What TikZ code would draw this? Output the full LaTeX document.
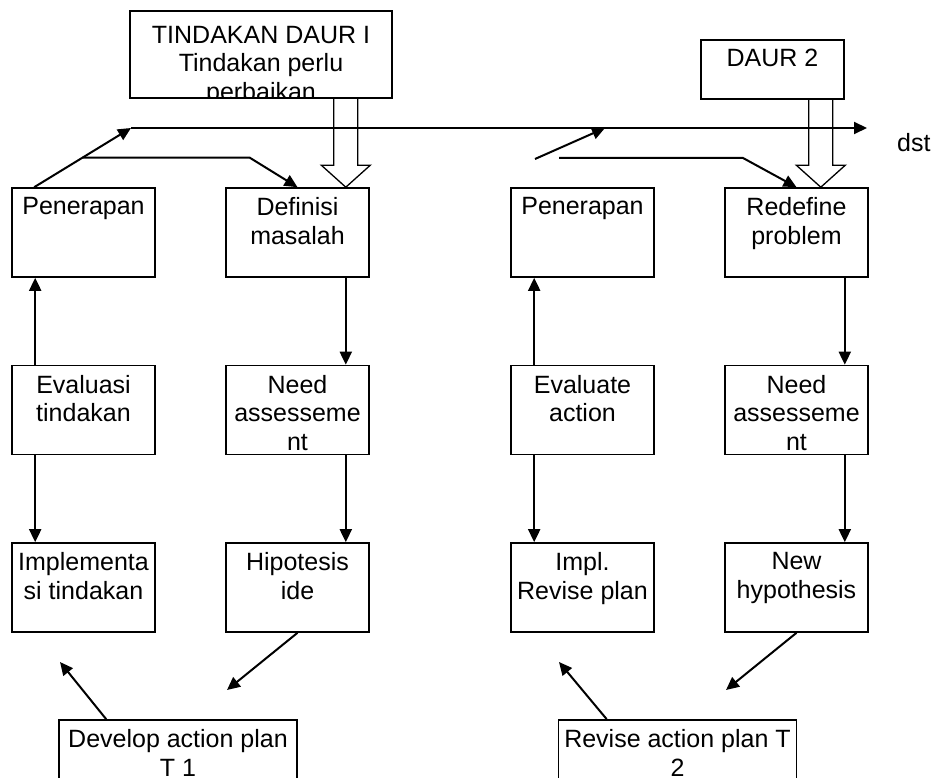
\documentclass[tikz,border=0pt]{standalone}
\usepackage{fontspec}
\setmainfont{Liberation Sans}
\usetikzlibrary{arrows.meta,calc}

\newcommand{\teks}{\fontsize{25}{28.5}\selectfont}

\tikzset{
  kotak/.style={draw, line width=1.6pt, minimum width=143pt, minimum height=89pt, inner sep=0pt},
  isi/.style={anchor=north, yshift=-10pt, align=center, inner sep=0pt, font=\teks},
  panah/.style={line width=2pt, -{Triangle[length=13pt,width=12pt]}},
  kosong/.style={line width=1.3pt}
}

\begin{document}
\begin{tikzpicture}[x=1pt, y=-1pt]
\useasboundingbox (0,0) rectangle (935,778);
\clip (0,0) rectangle (935,778);

    % kotak judul daur
    \node [kotak, minimum width=262pt, minimum height=87pt,
        path picture={\node [isi] (tin1t) at (path picture bounding box.north)
            {TINDAKAN DAUR I\\Tindakan perlu\\perbaikan};}] (tin1) at (261,54.7) {};
    \node [kotak, minimum height=59pt, label={[isi]north:DAUR 2}] (daur2) at (772.5,69.5) {};

    % daur 1
    \node [kotak, label={[isi]north:Penerapan}] (pen1) at (83.5,232.5) {};
    \node [kotak, label={[isi]north:{Definisi\\masalah}}] (def1) at (297.5,232.5) {};
    \node [kotak, label={[isi]north:{Evaluasi\\tindakan}}] (eva1) at (83.5,410) {};
    \node [kotak, label={[isi]north:{Need\\assesseme\\nt}}] (need1) at (297.5,410) {};
    \node [kotak, label={[isi]north:{Implementa\\si tindakan}}] (imp1) at (83.5,587.5) {};
    \node [kotak, label={[isi]north:{Hipotesis\\ide}}] (hip1) at (297.5,587.5) {};
    \node [kotak, minimum width=238pt, label={[isi]north:{Develop action plan\\T 1}}] (dev1) at (178,764.5) {};

    % daur 2
    \node [kotak, label={[isi]north:Penerapan}] (pen2) at (582.5,232.5) {};
    \node [kotak, label={[isi]north:{Redefine\\problem}}] (red2) at (796.5,232.5) {};
    \node [kotak, label={[isi]north:{Evaluate\\action}}] (eva2) at (582.5,410) {};
    \node [kotak, label={[isi]north:{Need\\assesseme\\nt}}] (need2) at (796.5,410) {};
    \node [kotak, label={[isi]north:{Impl.\\Revise plan}}] (imp2) at (582.5,587.5) {};
    \node [kotak, label={[isi]north:{New\\hypothesis}}] (new2) at (796.5,587.5) {};
    \node [kotak, minimum width=238pt, label={[isi]north:{Revise action plan T\\2}}] (rev2) at (677.5,764.5) {};

    % panah tegak
    \draw [panah] ([xshift=24pt]eva1.north west) -- ([xshift=24pt]pen1.south west);
    \draw [panah] ([xshift=24pt]eva1.south west) -- ([xshift=24pt]imp1.north west);
    \draw [panah] ([xshift=-24pt]def1.south east) -- ([xshift=-24pt]need1.north east);
    \draw [panah] ([xshift=-24pt]need1.south east) -- ([xshift=-24pt]hip1.north east);
    \draw [panah] ([xshift=24pt]eva2.north west) -- ([xshift=24pt]pen2.south west);
    \draw [panah] ([xshift=24pt]eva2.south west) -- ([xshift=24pt]imp2.north west);
    \draw [panah] ([xshift=-24pt]red2.south east) -- ([xshift=-24pt]need2.north east);
    \draw [panah] ([xshift=-24pt]need2.south east) -- ([xshift=-24pt]new2.north east);

    % garis atas menuju dst
    \coordinate (a1) at (131,128);
    \coordinate (ujung) at (867,128);
    \draw [panah] ([xshift=23pt]pen1.north west) -- (a1);
    \draw [panah] (a1) -- (ujung);
    \node [anchor=base west, inner sep=0pt, font=\teks] (dst) at (897,152) {dst};
    \draw [panah] ($([xshift=23pt]pen1.north west)!0.5!(a1)$) -- ++(167,0) -- (def1.north);

    \coordinate (c2) at (535,159);
    \coordinate (a2) at (605,128);
    \draw [panah] (c2) -- (a2);
    \coordinate (c3) at (559,158);
    \draw [panah] (c3) -- ++(184,0) -- (red2.north);

    % panah kosong
    \coordinate (h1) at ([xshift=-24pt]def1.north east);
    \draw [kosong] ($(h1 |- tin1.south)+(-12,0)$) -- ($(h1)+(-12,-22)$) -- ($(h1)+(-24.5,-22)$)
        -- (h1) -- ($(h1)+(24.5,-22)$) -- ($(h1)+(12,-22)$) -- ($(h1 |- tin1.south)+(12,0)$);
    \coordinate (h2) at ([xshift=-48pt]red2.north east);
    \draw [kosong] ($(h2 |- daur2.south)+(-12,0)$) -- ($(h2)+(-12,-22)$) -- ($(h2)+(-24.5,-22)$)
        -- (h2) -- ($(h2)+(24.5,-22)$) -- ($(h2)+(12,-22)$) -- ($(h2 |- daur2.south)+(12,0)$);

    % panah bawah
    \coordinate (d1) at (60,662);
    \coordinate (d2) at (227,690);
    \coordinate (d3) at (559,662);
    \coordinate (d4) at (726,690);
    \draw [panah] ([xshift=48pt]dev1.north west) -- (d1);
    \draw [panah] (hip1.south) -- (d2);
    \draw [panah] ([xshift=49pt]rev2.north west) -- (d3);
    \draw [panah] (new2.south) -- (d4);

\end{tikzpicture}
\end{document}
